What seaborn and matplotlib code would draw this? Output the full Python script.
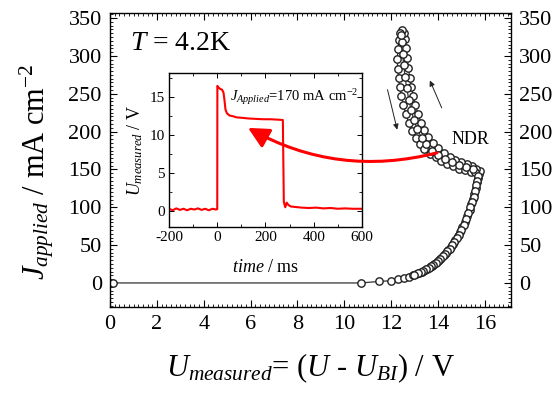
import pandas as pd
import matplotlib.pyplot as plt
import seaborn as sns
from matplotlib.ticker import MultipleLocator

# main J-U sweep, in sweep order
volt_low = [0.12, 10.7, 11.5, 12.0, 12.3, 12.55, 12.75, 12.92, 13.07, 13.2, 13.32, 13.44,
            13.55, 13.65, 13.75, 13.85, 13.95, 14.05, 14.15, 14.25, 14.35, 14.45, 14.55,
            14.65, 14.75, 14.85, 14.95, 15.05, 15.15, 15.25, 15.35, 15.43, 15.5, 15.56,
            15.62, 15.67, 15.71, 15.75, 15.78]
j_low = [0, 0, 2, 3, 5, 7, 8.5, 10, 12, 13.5, 15, 17,
         19, 21, 23, 25.5, 28, 30.5, 33.5, 36.5, 40, 43.5, 47.5,
         52, 56.5, 61.5, 67, 74, 81, 89, 97, 104, 111, 118,
         126, 133, 139, 144, 148]

volt_ndr_up = [15.62, 15.45, 15.25, 15.0, 14.75, 14.5, 14.25, 14.0, 13.78, 13.58, 13.42, 13.28,
               13.15, 13.04, 12.95, 12.87, 12.8, 12.74, 12.69, 12.64, 12.6, 12.55, 12.48]
j_ndr_up = [151, 154, 157, 160, 163, 167, 172, 178, 185, 193, 202, 212,
            223, 235, 247, 259, 271, 284, 297, 310, 322, 330, 334]

volt_ndr_down = [12.4, 12.34, 12.29, 12.27, 12.28, 12.32, 12.37, 12.44, 12.53, 12.63, 12.75,
                 12.9, 13.05, 13.22, 13.42, 13.65, 13.9, 14.15, 14.4, 14.65, 14.9, 15.15,
                 15.4, 15.6]
j_ndr_down = [331, 321, 309, 296, 283, 271, 259, 247, 235, 223, 212,
              201, 192, 184, 177, 171, 166, 161, 157, 154, 151, 149,
              147, 146]

volt_return = [15.72, 15.68, 15.64, 15.59, 15.53, 15.47, 15.39, 15.3, 15.2, 15.1, 15.0, 14.9,
               14.8, 14.7, 14.6, 14.5, 14.4, 14.3, 14.2, 14.1, 14.0, 13.9, 13.8, 13.7,
               13.6, 13.5, 13.38, 13.26, 13.14, 13.0]
j_return = [141, 135, 129, 122, 114, 107, 100, 93, 85, 77, 70, 64,
            59, 54, 50, 45.5, 42, 38, 35, 32, 29, 26.5, 24, 22,
            20, 18, 16, 14, 12.5, 11]

# second pass through the middle of the NDR band
volt_ndr_mid = [15.5, 15.2, 14.9, 14.6, 14.3, 14.0, 13.75, 13.5, 13.3, 13.12, 12.98, 12.86,
                12.76, 12.67, 12.6, 12.54, 12.49, 12.45, 12.44]
j_ndr_mid = [150, 153, 156, 160, 164, 169, 175, 183, 192, 203, 215, 228,
             242, 257, 272, 288, 303, 318, 328]

# inset: voltage transient at J = 170 mA cm^-2
time_ms = [-200, -185, -170, -155, -140, -125, -110, -95, -80, -65, -50, -35, -20, -5, 0,
           0.5, 5, 12, 20, 26, 30, 34, 40, 50, 65, 80, 100, 130, 160, 190, 220, 250, 272,
           276, 282, 288, 295, 305, 320, 350, 380, 410, 440, 470, 500, 530, 560, 600]
u_meas = [0.3, 0.1, 0.35, 0.15, 0.3, 0.1, 0.3, 0.2, 0.35, 0.15, 0.3, 0.1, 0.3, 0.2, 0.25,
          16.5, 16.3, 16.1, 16.0, 15.6, 14.6, 13.4, 12.9, 12.6, 12.5, 12.35, 12.3, 12.2, 12.15,
          12.1, 12.1, 12.05, 12.0, 1.2, 0.5, 1.1, 0.8, 0.6, 0.55, 0.45, 0.4, 0.45, 0.35, 0.4,
          0.3, 0.35, 0.3, 0.3]

cycle1_u = volt_low + volt_ndr_up + volt_ndr_down + volt_return
cycle1_j = j_low + j_ndr_up + j_ndr_down + j_return
sweep = pd.DataFrame({
    "U": cycle1_u + volt_ndr_mid,
    "J": cycle1_j + j_ndr_mid,
    "cycle": [1] * len(cycle1_u) + [2] * len(volt_ndr_mid),
})
trace = pd.DataFrame({"t": time_ms, "U": u_meas})

sns.set_theme(style="ticks")
plt.rcParams["font.family"] = ["Liberation Serif", "DejaVu Serif"]
plt.rcParams["mathtext.fontset"] = "custom"
plt.rcParams["mathtext.rm"] = "Liberation Serif"
plt.rcParams["mathtext.it"] = "Liberation Serif:italic"
plt.rcParams["axes.unicode_minus"] = False
for key in ["text.color", "axes.labelcolor", "xtick.color", "ytick.color", "axes.edgecolor"]:
    plt.rcParams[key] = "black"

fig = plt.figure(figsize=(5.56, 4.01), dpi=100)
ax = fig.add_axes([0.198, 0.234, 0.721, 0.734])

sns.lineplot(data=sweep, x="U", y="J", units="cycle", ax=ax, sort=False, estimator=None,
             color="#333333", lw=0.9, marker="o", markersize=5.3,
             markerfacecolor="white", markeredgecolor="#222222", markeredgewidth=1.0)

ax.set_xlim(0, 17.12)
ax.set_ylim(-32, 357)
ax.xaxis.set_major_locator(MultipleLocator(2))
ax.xaxis.set_minor_locator(MultipleLocator(0.2))
ax.yaxis.set_major_locator(MultipleLocator(50))
ax.yaxis.set_minor_locator(MultipleLocator(5))
ax.tick_params(which="both", direction="in", top=True, right=True, labelright=True,
               labelsize=16, pad=6)
ax.tick_params(which="major", length=5, width=0.8)
ax.tick_params(which="minor", length=2.5, width=0.6)
for s in ax.spines.values():
    s.set_linewidth(1.0)

ax.set_xlabel(r"$U_{measured}$= ($U$ - $U_{BI}$) / V", fontsize=22, labelpad=12)
ax.set_ylabel(r"$J_{applied}$ / mA cm$^{-2}$", fontsize=22)
ax.yaxis.set_label_coords(-0.135, 0.46)

ax.text(0.05, 0.895, r"$T$ = 4.2K", transform=ax.transAxes, fontsize=20,
        va="center", ha="left")
ax.text(14.6, 189, "NDR", fontsize=13, va="center", ha="left")

# sweep direction arrows
ax.annotate("", xy=(13.61, 271), xytext=(14.21, 228),
            arrowprops=dict(arrowstyle="-|>", lw=0.7, color="#222222", mutation_scale=8))
ax.annotate("", xy=(12.29, 199), xytext=(11.82, 259),
            arrowprops=dict(arrowstyle="-|>", lw=0.7, color="#222222", mutation_scale=8))

# inset
axin = fig.add_axes([0.304, 0.434, 0.347, 0.384])
sns.lineplot(data=trace, x="t", y="U", ax=axin, sort=False, estimator=None,
             color="red", lw=1.5)
axin.set_xlim(-200, 600)
axin.set_ylim(-2.1, 18.2)
axin.xaxis.set_major_locator(MultipleLocator(200))
axin.xaxis.set_minor_locator(MultipleLocator(100))
axin.yaxis.set_major_locator(MultipleLocator(5))
axin.yaxis.set_minor_locator(MultipleLocator(2.5))
axin.tick_params(which="both", direction="in", top=True, right=True, labelsize=11, pad=3)
axin.tick_params(which="major", length=3.5, width=0.7)
axin.tick_params(which="minor", length=2.5, width=0.6)
for s in axin.spines.values():
    s.set_linewidth(1.0)
axin.set_xlabel(r"$time$ / ms", fontsize=13, labelpad=11)
axin.set_ylabel(r"$U_{measured}$ / V", fontsize=13, labelpad=3)
axin.text(53, 15, r"$J_{Applied}$=170 mA cm$^{-2}$", fontsize=10.5, va="center", ha="left")

# red curved arrow from NDR point to the inset
axin.annotate("", xy=(5.89, 205), xycoords=ax.transData,
              xytext=(13.96, 172), textcoords=ax.transData, annotation_clip=False,
              arrowprops=dict(arrowstyle="-|>,head_length=0.9,head_width=0.45",
                              connectionstyle="arc3,rad=-0.2", lw=2.2, color="red",
                              mutation_scale=14, shrinkA=0, shrinkB=0))

fig.savefig("out.png", dpi=100)
